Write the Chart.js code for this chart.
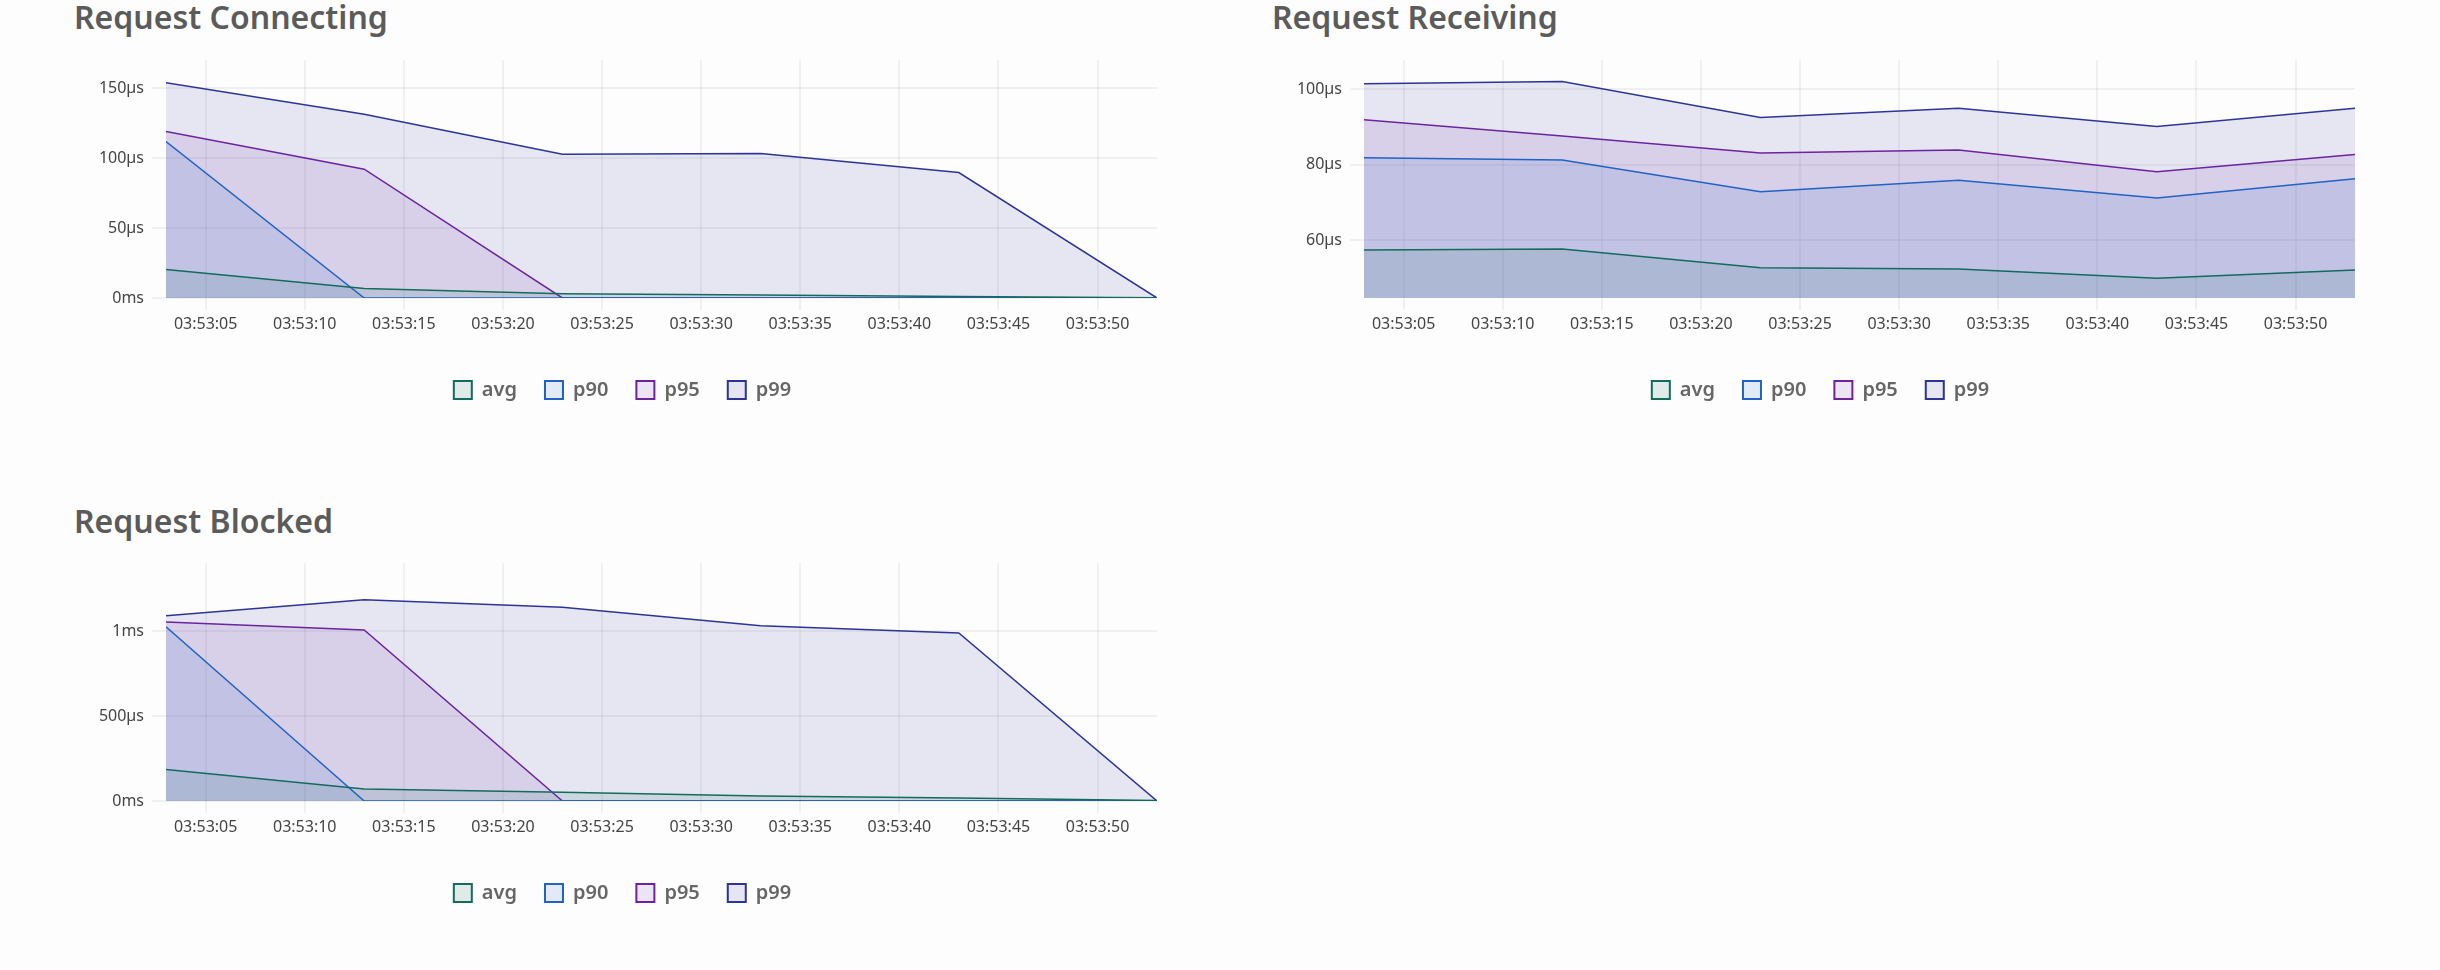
<!DOCTYPE html>
<html>
<head>
<meta charset="utf-8">
<script src="https://cdn.jsdelivr.net/npm/chart.js@4.4.1/dist/chart.umd.min.js"></script>
<style>
html,body{margin:0;padding:0;background:#fdfdfd;width:2440px;height:970px;overflow:hidden;}
.title{position:absolute;font-family:'Noto Sans',sans-serif;font-weight:600;font-size:32px;color:#5b5b5b;line-height:36px;white-space:nowrap;}
canvas{position:absolute;}
</style>
</head>
<body>
<div class="title" style="left:74px;top:-1px">Request Connecting</div>
<div class="title" style="left:1272px;top:-1px">Request Receiving</div>
<div class="title" style="left:74px;top:503px">Request Blocked</div>
<canvas id="c1" width="1084" height="370" style="left:88px;top:40px"></canvas>
<canvas id="c2" width="1084" height="370" style="left:1286px;top:40px"></canvas>
<canvas id="c3" width="1084" height="370" style="left:88px;top:543px"></canvas>
<script>
// time in seconds after 03:53:00
const seconds = [3, 13, 23, 33, 43, 53];
const xTickSeconds = [5, 10, 15, 20, 25, 30, 35, 40, 45, 50];
const xTickLabels = ['03:53:05','03:53:10','03:53:15','03:53:20','03:53:25','03:53:30','03:53:35','03:53:40','03:53:45','03:53:50'];
const seriesNames = ['avg', 'p90', 'p95', 'p99'];

// Request Connecting (µs)
const connAvg = [20.3, 6.7, 3.0, 2.2, 1.0, 0.2];
const connP90 = [111.8, 0, 0, 0, 0, 0];
const connP95 = [118.9, 92.0, 0, 0, 0, 0];
const connP99 = [153.8, 131.3, 102.7, 103.2, 89.6, 0];
const connTicks = [0, 50, 100, 150];
const connTickLabels = ['0ms', '50µs', '100µs', '150µs'];

// Request Receiving (µs)
const recvAvg = [57.4, 57.7, 52.7, 52.4, 49.9, 52.1];
const recvP90 = [81.8, 81.2, 72.8, 75.9, 71.2, 76.3];
const recvP95 = [91.9, 87.6, 83.1, 83.9, 78.1, 82.7];
const recvP99 = [101.4, 102.0, 92.5, 94.9, 90.1, 94.9];
const recvTicks = [60, 80, 100];
const recvTickLabels = ['60µs', '80µs', '100µs'];

// Request Blocked (µs)
const blkAvg = [185, 70, 51, 29, 17, 3];
const blkP90 = [1025, 0, 0, 0, 0, 0];
const blkP95 = [1053, 1006, 0, 0, 0, 0];
const blkP99 = [1090, 1184, 1139, 1031, 988, 0];
const blkTicks = [0, 500, 1000];
const blkTickLabels = ['0ms', '500µs', '1ms'];

const lineColors = ['#136b5b', '#2162c4', '#6c23a0', '#2d3496'];
const fillColors = ['rgba(19,107,91,0.12)', 'rgba(33,98,196,0.12)', 'rgba(108,35,160,0.115)', 'rgba(45,52,150,0.115)'];

Chart.defaults.font.family = "'Noto Sans', sans-serif";

function makeChart(id, seriesList, yMin, yMax, yTicks, yLabels) {
  const datasets = seriesList.map((arr, i) => ({
    label: seriesNames[i],
    data: seconds.map((s, k) => ({x: s, y: arr[k]})),
    borderColor: lineColors[i],
    backgroundColor: fillColors[i],
    borderWidth: 1.5,
    pointRadius: 0,
    tension: 0,
    fill: 'origin'
  }));
  const grid = {color: 'rgba(0,0,0,0.05)', lineWidth: 2};
  return new Chart(document.getElementById(id), {
    type: 'line',
    data: {datasets},
    options: {
      responsive: false,
      animation: false,
      layout: {padding: {top: 20, left: 0, right: 15, bottom: 0}},
      scales: {
        x: {
          type: 'linear',
          min: seconds[0],
          max: seconds[seconds.length - 1],
          border: {display: false},
          grid: Object.assign({tickLength: 12}, grid),
          afterBuildTicks: s => { s.ticks = xTickSeconds.map(v => ({value: v})); },
          afterFit: s => { s.height = 54; },
          ticks: {
            autoSkip: false, maxRotation: 0, padding: 5,
            color: '#444', font: {size: 16},
            callback: (v, idx) => xTickLabels[idx]
          }
        },
        y: {
          min: yMin,
          max: yMax,
          border: {display: false},
          grid: Object.assign({tickLength: 14}, grid),
          afterBuildTicks: s => { s.ticks = yTicks.map(v => ({value: v})); },
          afterFit: s => { s.width = 78; },
          ticks: {
            padding: 8, color: '#444', font: {size: 16},
            callback: (v, idx) => yLabels[idx]
          }
        }
      },
      plugins: {
        tooltip: {enabled: false},
        legend: {
          position: 'bottom',
          labels: {
            boxWidth: 18, boxHeight: 18, padding: 28,
            color: '#666', font: {size: 20, weight: 600},
            generateLabels: chart => {
              const items = Chart.defaults.plugins.legend.labels.generateLabels(chart);
              items.forEach(it => { it.lineWidth = 2; });
              return items;
            }
          }
        }
      }
    }
  });
}

makeChart('c1', [connAvg, connP90, connP95, connP99], 0, 170, connTicks, connTickLabels);
makeChart('c2', [recvAvg, recvP90, recvP95, recvP99], 44.7, 107.7, recvTicks, recvTickLabels);
makeChart('c3', [blkAvg, blkP90, blkP95, blkP99], 0, 1400, blkTicks, blkTickLabels);
</script>
</body>
</html>
